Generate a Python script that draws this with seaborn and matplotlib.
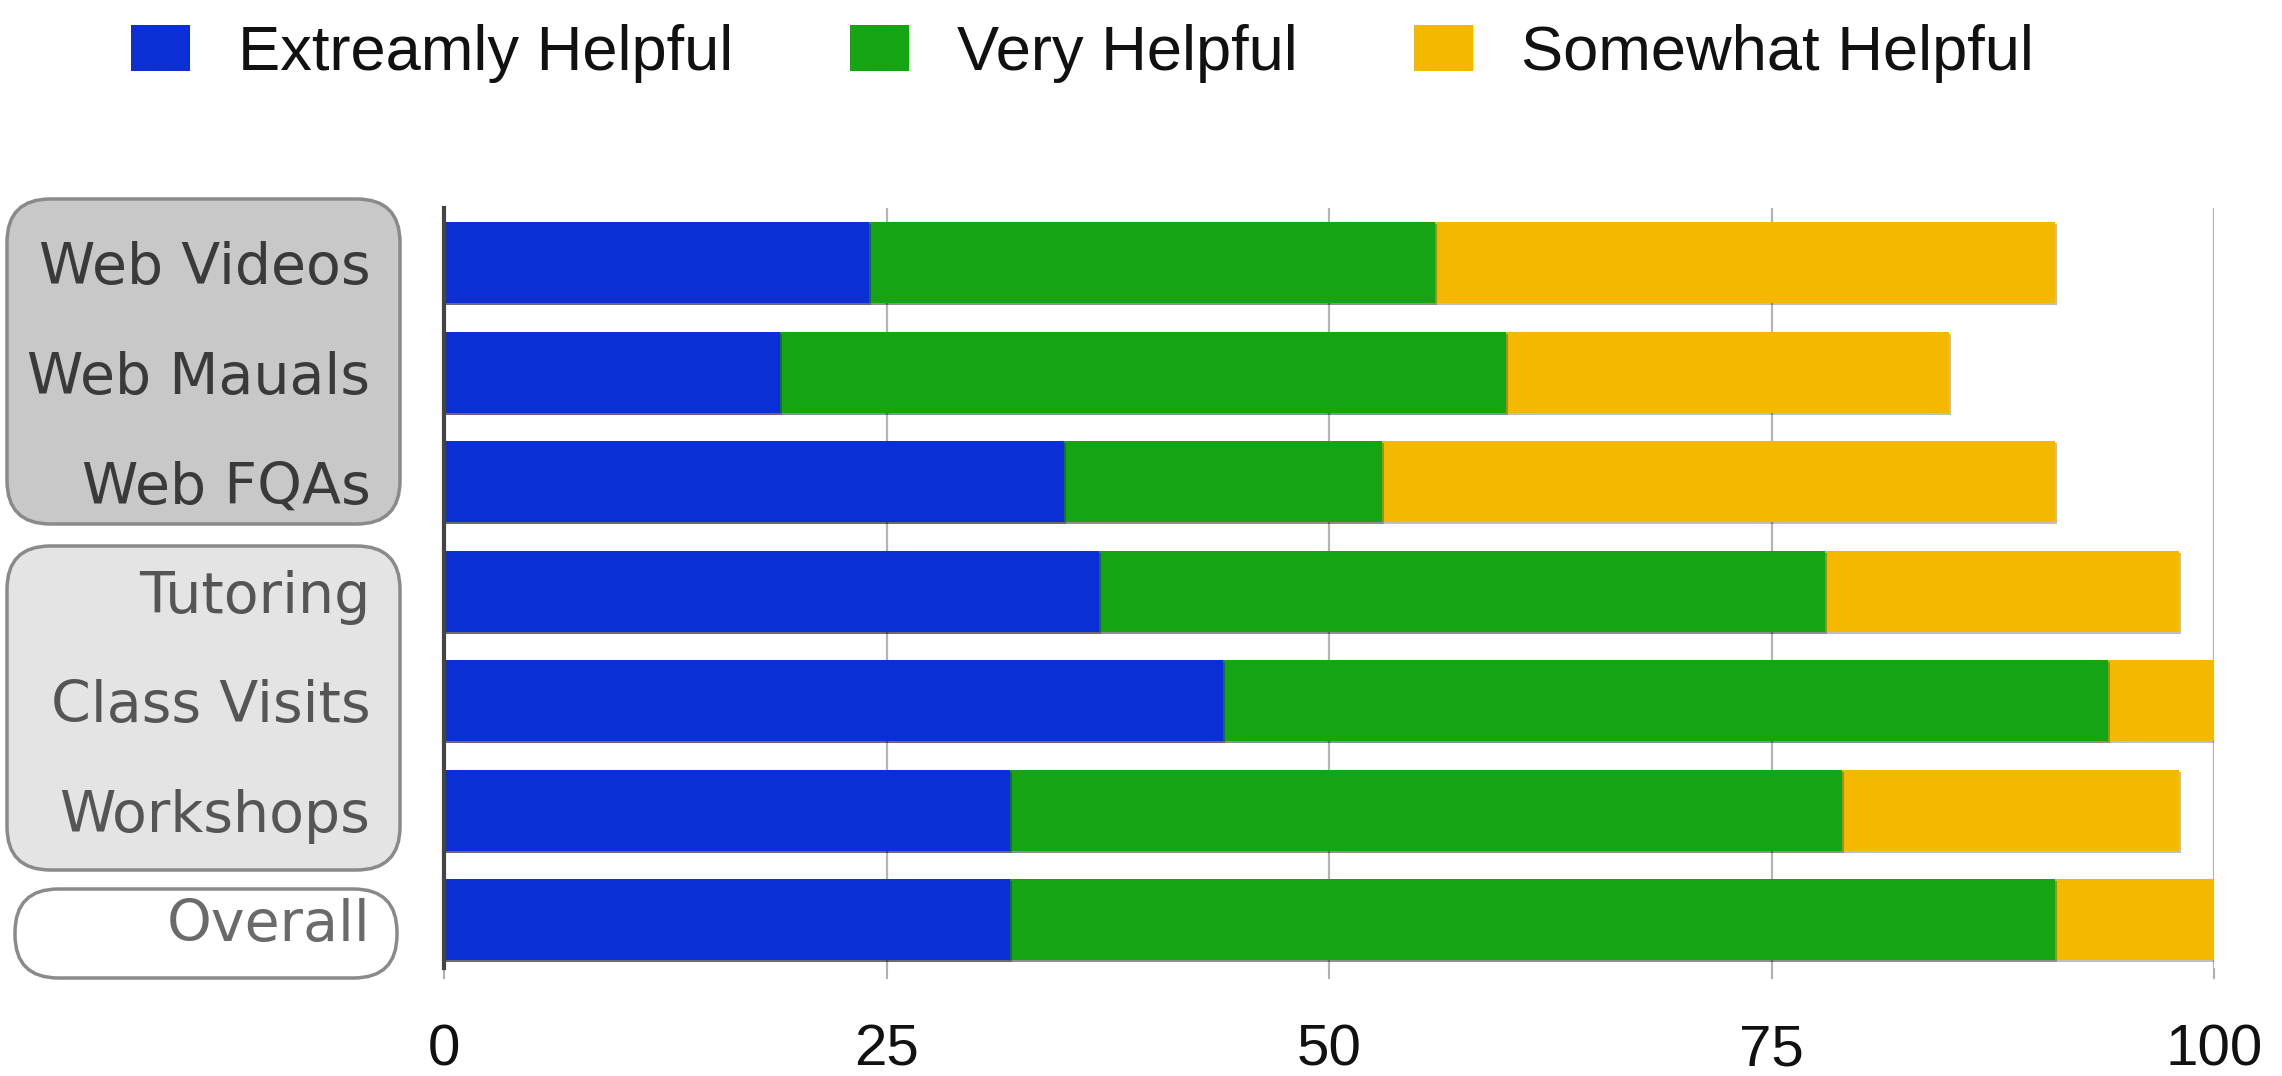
import matplotlib
matplotlib.use("Agg")
import matplotlib.pyplot as plt
import matplotlib.patheffects as pe
from matplotlib.patches import FancyBboxPatch, Patch
import numpy as np
import pandas as pd
import seaborn as sns

# Survey results: share of respondents rating each resource
categories = ["Web Videos", "Web Mauals", "Web FQAs", "Tutoring",
              "Class Visits", "Workshops", "Overall"]
extremely_helpful = [24, 19, 35, 37, 44, 32, 32]
very_helpful = [32, 41, 18, 41, 50, 47, 59]
somewhat_helpful = [35, 25, 38, 20, 6, 19, 9]
series_names = ["Extreamly Helpful", "Very Helpful", "Somewhat Helpful"]
x_ticks = [0, 25, 50, 75, 100]

colors = ["#0b2fd6", "#15a514", "#f4b800"]

sns.set_theme(style="white")
plt.rcParams["font.family"] = ["Liberation Sans", "DejaVu Sans"]

df = pd.DataFrame({
    "category": categories,
    "e": extremely_helpful,
    "v": very_helpful,
    "s": somewhat_helpful,
})
df["ev"] = df["e"] + df["v"]
df["evs"] = df["ev"] + df["s"]

W, H = 2282, 1076
fig = plt.figure(figsize=(W / 100, H / 100), dpi=100)
ax = fig.add_axes([444 / W, 1 - 968 / H, (2214 - 444) / W, (968 - 208) / H])
ax.set_zorder(2)
ax.patch.set_alpha(0)

# Stacked horizontal bars: draw cumulative totals from widest to narrowest
shadow = [pe.SimplePatchShadow(offset=(1.5, -1.5), shadow_rgbFace="#000000", alpha=0.25),
          pe.Normal()]
for col, c in zip(["evs", "ev", "e"], colors[::-1]):
    sns.barplot(data=df, x=col, y="category", order=categories, color=c,
                orient="h", width=0.74, saturation=1, ax=ax, zorder=3)
for p in ax.patches:
    p.set_linewidth(0)
    p.set_path_effects(shadow)

ax.set_xlim(0, 100)
ax.set_ylim(6.44, -0.5)
ax.set_xlabel("")
ax.set_ylabel("")
ax.set_xticks(x_ticks)
ax.set_xticklabels([str(t) for t in x_ticks], fontsize=42, color="#111111")
ax.tick_params(axis="x", direction="out", length=8, width=1.5, color="#b0b0b0",
               pad=32, bottom=True)
ax.tick_params(axis="y", length=0, pad=53)
for lbl, col in zip(ax.get_yticklabels(),
                    ["#3a3a3a"] * 3 + ["#555555"] * 3 + ["#6a6a6a"]):
    lbl.set_fontfamily("DejaVu Sans")
    lbl.set_fontsize(41)
    lbl.set_color(col)

ax.grid(axis="x", color="#b4b4b4", linewidth=1.6, zorder=0)
ax.grid(axis="y", visible=False)
for side in ["top", "right", "bottom"]:
    ax.spines[side].set_visible(False)
ax.spines["left"].set_color("#444444")
ax.spines["left"].set_linewidth(3)
ax.spines["left"].set_zorder(5)

# Rounded group boxes behind the category labels
groups = [
    (7, 199, 400, 524, "#c8c8c8"),
    (7, 546, 400, 870, "#e4e4e4"),
    (15, 889, 397, 978, "#ffffff"),
]
for x0, y0, x1, y1, fc in groups:
    box = FancyBboxPatch((x0 / W, 1 - y1 / H), (x1 - x0) / W, (y1 - y0) / H,
                         boxstyle="round,pad=0,rounding_size=0.019",
                         transform=fig.transFigure, facecolor=fc,
                         edgecolor="#8a8a8a", linewidth=2.5, zorder=-1,
                         mutation_aspect=W / H)
    fig.patches.append(box)

handles = [Patch(facecolor=c, edgecolor="none") for c in colors]
leg = fig.legend(handles, series_names, loc="upper left",
                 bbox_to_anchor=(131 / W, 1 - 24 / H), ncol=3, frameon=False,
                 fontsize=45.5, handlelength=0.93, handleheight=0.76,
                 handletextpad=0.76, columnspacing=1.85, borderpad=0,
                 borderaxespad=0)
for t in leg.get_texts():
    t.set_color("#111111")

fig.savefig("out.png", dpi=100)
